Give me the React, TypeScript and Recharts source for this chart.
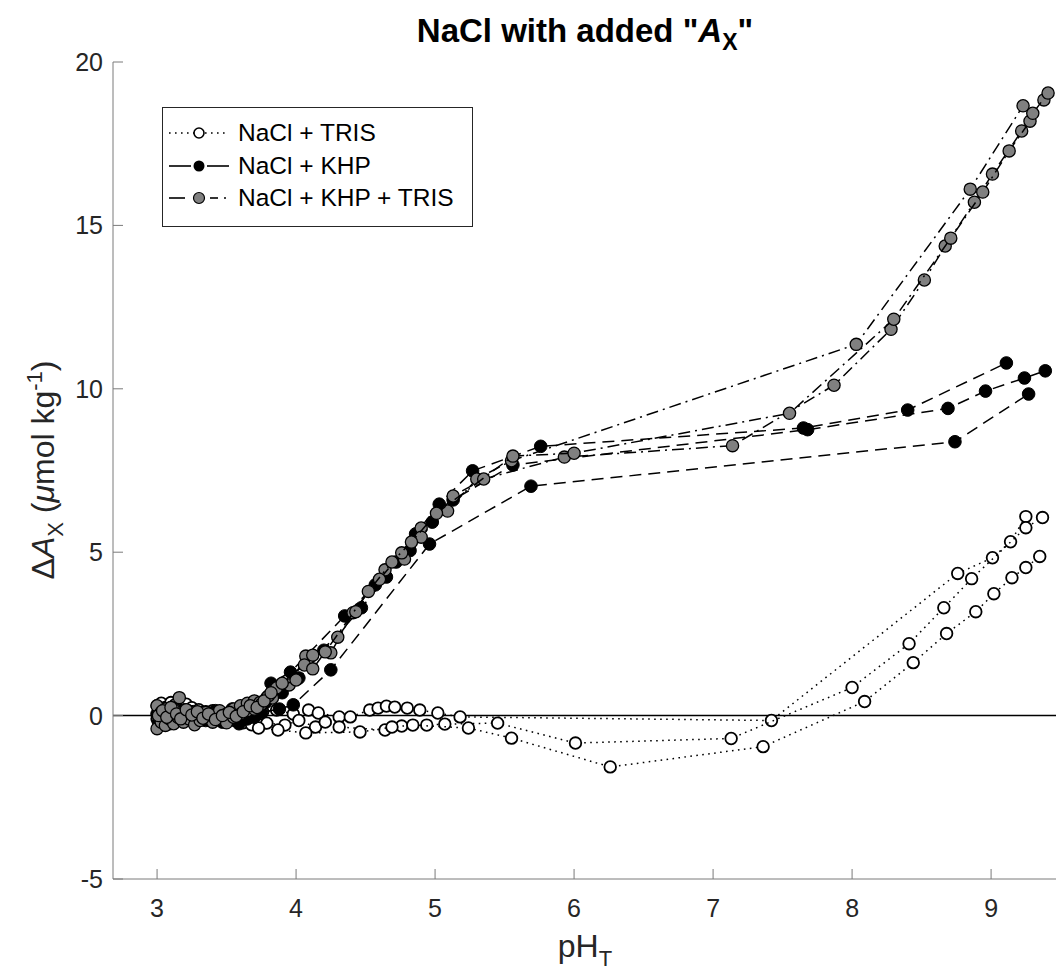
import React from 'react';
import { ScatterChart, Scatter, XAxis, YAxis, ReferenceLine } from 'recharts';

// pH_T vs Delta A_X, one array per titration run: [pH, dA]
const trisRun1 = [
  [3.00, 0.30], [3.03, 0.38], [3.06, 0.25], [3.10, 0.40], [3.13, 0.33], [3.17, 0.28], [3.21, 0.35], [3.25, 0.24],
  [3.30, 0.18], [3.35, 0.12], [3.40, 0.15], [3.46, 0.08], [3.52, 0.05], [3.58, 0.10], [3.64, 0.02], [3.70, 0.08],
  [3.76, 0.12], [3.86, 0.17], [3.98, 0.05], [4.09, 0.17], [4.16, 0.08], [4.31, -0.04], [4.39, -0.04], [4.53, 0.17],
  [4.59, 0.23], [4.65, 0.29], [4.71, 0.26], [4.80, 0.23], [4.89, 0.17], [5.02, 0.08], [5.18, -0.04], [7.42, -0.15],
  [8.76, 4.35], [9.01, 4.83], [9.14, 5.32], [9.25, 6.09],
];
const trisRun2 = [
  [3.00, -0.10], [3.04, 0.05], [3.08, -0.05], [3.12, 0.10], [3.16, 0.00], [3.20, 0.08], [3.25, -0.02], [3.30, 0.05],
  [3.36, -0.08], [3.42, -0.05], [3.48, -0.15], [3.54, -0.12], [3.60, -0.20], [3.66, -0.18], [3.72, -0.25], [3.79, -0.23],
  [3.92, -0.29], [4.02, -0.15], [4.14, -0.35], [4.21, -0.20], [4.31, -0.35], [4.64, -0.44], [4.76, -0.32], [4.94, -0.29],
  [5.07, -0.26], [5.45, -0.23], [6.01, -0.84], [7.13, -0.70], [8.00, 0.86], [8.41, 2.20], [8.66, 3.30], [8.86, 4.19],
  [9.25, 5.75], [9.37, 6.06],
];
const trisRun3 = [
  [3.01, 0.15], [3.05, 0.22], [3.09, 0.12], [3.13, 0.20], [3.18, 0.10], [3.22, 0.16], [3.27, 0.05], [3.32, 0.10],
  [3.38, -0.02], [3.44, 0.02], [3.50, -0.10], [3.56, -0.15], [3.62, -0.22], [3.68, -0.28], [3.73, -0.38], [3.87, -0.44],
  [4.07, -0.53], [4.46, -0.50], [4.69, -0.35], [4.84, -0.29], [5.24, -0.38], [5.55, -0.69], [6.26, -1.57], [7.36, -0.95],
  [8.09, 0.43], [8.44, 1.62], [8.68, 2.51], [8.89, 3.18], [9.02, 3.73], [9.15, 4.22], [9.25, 4.53], [9.35, 4.87],
];

const khpRun1 = [
  [3.00, 0.05], [3.04, -0.10], [3.08, 0.08], [3.12, -0.05], [3.16, 0.10], [3.21, 0.00], [3.26, 0.12], [3.31, -0.02],
  [3.36, 0.08], [3.42, 0.15], [3.48, 0.05], [3.54, 0.20], [3.60, 0.12], [3.66, 0.30], [3.72, 0.35], [3.82, 0.99],
  [3.96, 1.33], [4.35, 3.05], [4.57, 4.00], [4.72, 4.70], [4.86, 5.56], [5.03, 6.47], [5.27, 7.49], [5.76, 8.24],
  [7.65, 8.80], [8.40, 9.35], [9.11, 10.79],
];
const khpRun2 = [
  [3.01, -0.20], [3.05, 0.00], [3.09, -0.25], [3.13, 0.05], [3.18, -0.15], [3.23, -0.05], [3.28, -0.20], [3.33, 0.00],
  [3.39, -0.10], [3.45, 0.05], [3.51, -0.05], [3.57, 0.10], [3.63, 0.05], [3.69, 0.20], [3.78, 0.40], [3.90, 0.70],
  [4.02, 1.15], [4.20, 2.00], [4.47, 3.30], [4.65, 4.24], [4.82, 5.05], [4.98, 5.92], [5.13, 6.60], [5.56, 7.67],
  [7.68, 8.75], [8.69, 9.40], [8.96, 9.93], [9.24, 10.33], [9.39, 10.55],
];
const khpRun3 = [
  [3.02, 0.20], [3.06, 0.10], [3.10, 0.25], [3.15, 0.05], [3.20, 0.18], [3.25, -0.10], [3.30, 0.10], [3.35, -0.15],
  [3.41, 0.00], [3.47, -0.20], [3.53, -0.05], [3.59, -0.25], [3.65, -0.10], [3.70, -0.05], [3.75, 0.10], [3.88, 0.20],
  [3.98, 0.33], [4.25, 1.40], [4.96, 5.25], [5.69, 7.02], [8.74, 8.38], [9.27, 9.84],
];

const mixRun1 = [
  [3.00, 0.30], [3.03, 0.10], [3.06, 0.20], [3.09, 0.05], [3.12, 0.18], [3.16, 0.55], [3.19, 0.12], [3.23, 0.00],
  [3.27, 0.08], [3.31, -0.05], [3.35, 0.10], [3.40, 0.02], [3.45, 0.15], [3.50, 0.05], [3.55, 0.20], [3.60, 0.30],
  [3.65, 0.38], [3.70, 0.45], [3.74, 0.40], [3.79, 0.55], [3.83, 0.54], [3.95, 0.94], [4.07, 1.82], [4.25, 1.92],
  [4.41, 3.15], [4.64, 4.46], [4.78, 4.79], [4.90, 5.74], [5.09, 6.26], [5.30, 7.24], [5.55, 7.80], [8.03, 11.36],
  [8.85, 16.11], [9.23, 18.66],
];
const mixRun2 = [
  [3.00, -0.40], [3.03, -0.20], [3.06, -0.30], [3.09, -0.10], [3.12, -0.25], [3.15, -0.05], [3.19, -0.20], [3.23, -0.10],
  [3.27, -0.28], [3.31, -0.15], [3.35, -0.05], [3.40, -0.20], [3.45, -0.10], [3.50, -0.22], [3.55, -0.05], [3.60, 0.05],
  [3.65, 0.15], [3.70, 0.20], [3.75, 0.35], [3.80, 0.60], [3.86, 0.85], [4.00, 1.09], [4.12, 1.85], [4.30, 2.40],
  [4.43, 3.18], [4.60, 4.17], [4.76, 4.98], [4.90, 5.46], [5.13, 6.72], [5.35, 7.24], [5.93, 7.91], [7.14, 8.26],
  [7.87, 10.11], [8.28, 11.82], [8.52, 13.33], [8.67, 14.37], [8.88, 15.71], [9.01, 16.57], [9.22, 17.89], [9.38, 18.84],
];
const mixRun3 = [
  [3.01, 0.00], [3.04, 0.15], [3.07, -0.05], [3.10, 0.25], [3.14, 0.05], [3.17, -0.10], [3.21, 0.18], [3.25, 0.02],
  [3.29, 0.12], [3.33, -0.08], [3.37, 0.05], [3.42, -0.12], [3.47, 0.00], [3.52, 0.10], [3.57, -0.02], [3.62, 0.12],
  [3.67, 0.30], [3.72, 0.25], [3.77, 0.45], [3.82, 0.70], [3.90, 0.99], [4.06, 1.55], [4.12, 1.43], [4.21, 1.95],
  [4.52, 3.80], [4.69, 4.70], [4.83, 5.31], [5.01, 6.19], [5.56, 7.94], [6.00, 8.03], [7.55, 9.25], [8.30, 12.13],
  [8.71, 14.61], [8.94, 16.02], [9.13, 17.28], [9.28, 18.19], [9.30, 18.43], [9.41, 19.05],
];

const xTicks = [3, 4, 5, 6, 7, 8, 9];
const yTicks = [-5, 0, 5, 10, 15, 20];

const toPoints = (run: number[][]) => run.map(([x, y]) => ({ x, y }));

const FONT = '"Liberation Sans", Arial, Helvetica, sans-serif';
const TEXT = '#262626';
const AXIS = '#7a7a7a';

const DOTTED = '1.6 4.4';
const DASHED = '12 7';
const DASHDOT = '12 5 2 5';

const OpenDot = (p: any) => <circle cx={p.cx} cy={p.cy} r={5.8} fill="#fff" stroke="#000" strokeWidth={1.8} />;
const BlackDot = (p: any) => <circle cx={p.cx} cy={p.cy} r={6.3} fill="#000" stroke="#000" strokeWidth={1} />;
const GreyDot = (p: any) => <circle cx={p.cx} cy={p.cy} r={6.1} fill="#808080" stroke="#000" strokeWidth={1.3} />;

// MATLAB style ticks: pointing into the plot
const XTick = ({ x, y, payload }: any) => (
  <g>
    <line x1={x} y1={y} x2={x} y2={y - 10} stroke={AXIS} strokeWidth={1} />
    <text x={x} y={y + 38} textAnchor="middle" fontSize={25} fontFamily={FONT} fill={TEXT}>
      {payload.value}
    </text>
  </g>
);

const YTick = ({ x, y, payload }: any) => (
  <g>
    <line x1={x} y1={y} x2={x + 10} y2={y} stroke={AXIS} strokeWidth={1} />
    <text x={x - 10} y={y + 9} textAnchor="end" fontSize={25} fontFamily={FONT} fill={TEXT}>
      {payload.value}
    </text>
  </g>
);

const runs = [
  { data: trisRun1, shape: OpenDot, dash: DOTTED },
  { data: trisRun2, shape: OpenDot, dash: DOTTED },
  { data: trisRun3, shape: OpenDot, dash: DOTTED },
  { data: khpRun1, shape: BlackDot, dash: DASHED },
  { data: khpRun2, shape: BlackDot, dash: DASHED },
  { data: khpRun3, shape: BlackDot, dash: DASHED },
  { data: mixRun1, shape: GreyDot, dash: DASHDOT },
  { data: mixRun2, shape: GreyDot, dash: DASHDOT },
  { data: mixRun3, shape: GreyDot, dash: DASHDOT },
];

const LegendBox = () => {
  const rowStyle: React.CSSProperties = { position: 'absolute', left: 0, height: 30, display: 'flex', alignItems: 'center' };
  const label: React.CSSProperties = { fontFamily: FONT, fontSize: 24.5, color: '#000', marginLeft: 9 };
  return (
    <div
      style={{
        position: 'absolute', left: 162, top: 107, width: 309, height: 118,
        border: '1px solid #262626', background: '#fff',
      }}
    >
      <div style={{ ...rowStyle, top: 10 }}>
        <svg width={66} height={30}>
          <line x1={6} y1={15} x2={66} y2={15} stroke="#000" strokeWidth={1.4} strokeDasharray={DOTTED} />
          <circle cx={36} cy={15} r={5} fill="#fff" stroke="#000" strokeWidth={1.6} />
        </svg>
        <span style={label}>NaCl + TRIS</span>
      </div>
      <div style={{ ...rowStyle, top: 43 }}>
        <svg width={66} height={30}>
          <line x1={6} y1={15} x2={28} y2={15} stroke="#000" strokeWidth={1.6} />
          <line x1={44} y1={15} x2={66} y2={15} stroke="#000" strokeWidth={1.6} />
          <circle cx={36} cy={15} r={5.5} fill="#000" />
        </svg>
        <span style={label}>NaCl + KHP</span>
      </div>
      <div style={{ ...rowStyle, top: 75 }}>
        <svg width={66} height={30}>
          <line x1={6} y1={15} x2={22} y2={15} stroke="#000" strokeWidth={1.6} />
          <line x1={47} y1={15} x2={55} y2={15} stroke="#000" strokeWidth={1.6} />
          <line x1={61} y1={15} x2={63} y2={15} stroke="#000" strokeWidth={1.6} />
          <circle cx={36} cy={15} r={5.5} fill="#808080" stroke="#000" strokeWidth={1.2} />
        </svg>
        <span style={label}>NaCl + KHP + TRIS</span>
      </div>
    </div>
  );
};

export default function App() {
  return (
    <div style={{ position: 'absolute', left: 0, top: 0, width: 1056, height: 974, background: '#fff' }}>
      <ScatterChart width={1056} height={974} margin={{ top: 62, right: 0, bottom: 94, left: 112 }}>
        <text x={585} y={42} textAnchor="middle" fontSize={33} fontWeight="bold" fontFamily={FONT} fill="#000">
          NaCl with added "<tspan fontStyle="italic">A</tspan>
          <tspan dy={8} fontSize={23}>X</tspan>
          <tspan dy={-8}>"</tspan>
        </text>
        <XAxis
          type="number"
          dataKey="x"
          domain={[2.683, 9.467]}
          ticks={xTicks}
          allowDataOverflow
          height={1}
          tickSize={0}
          tickMargin={0}
          tickLine={false}
          axisLine={{ stroke: AXIS, strokeWidth: 1 }}
          tick={<XTick />}
        />
        <YAxis
          type="number"
          dataKey="y"
          domain={[-5, 20]}
          ticks={yTicks}
          allowDataOverflow
          width={1}
          tickSize={0}
          tickMargin={0}
          tickLine={false}
          axisLine={{ stroke: AXIS, strokeWidth: 1 }}
          tick={<YTick />}
        />
        <ReferenceLine y={0} stroke="#000" strokeWidth={1.5} />
        {runs.map((r, i) => (
          <Scatter
            key={i}
            data={toPoints(r.data)}
            shape={r.shape}
            line={{ stroke: '#000', strokeWidth: 1.5, strokeDasharray: r.dash }}
            lineType="joint"
            isAnimationActive={false}
            legendType="none"
          />
        ))}
        <text x={585} y={957} textAnchor="middle" fontSize={32} fontFamily={FONT} fill={TEXT}>
          pH<tspan dy={9} fontSize={22}>T</tspan>
        </text>
        <text
          x={54}
          y={470}
          textAnchor="middle"
          fontSize={32}
          fontFamily={FONT}
          fill={TEXT}
          transform="rotate(-90, 54, 470)"
        >
          Δ<tspan fontStyle="italic">A</tspan>
          <tspan dy={9} fontSize={22}>X</tspan>
          <tspan dy={-9}> (</tspan>
          <tspan fontStyle="italic">μ</tspan>mol kg
          <tspan dy={-12} fontSize={22}>-1</tspan>
          <tspan dy={12}>)</tspan>
        </text>
      </ScatterChart>
      <LegendBox />
    </div>
  );
}
